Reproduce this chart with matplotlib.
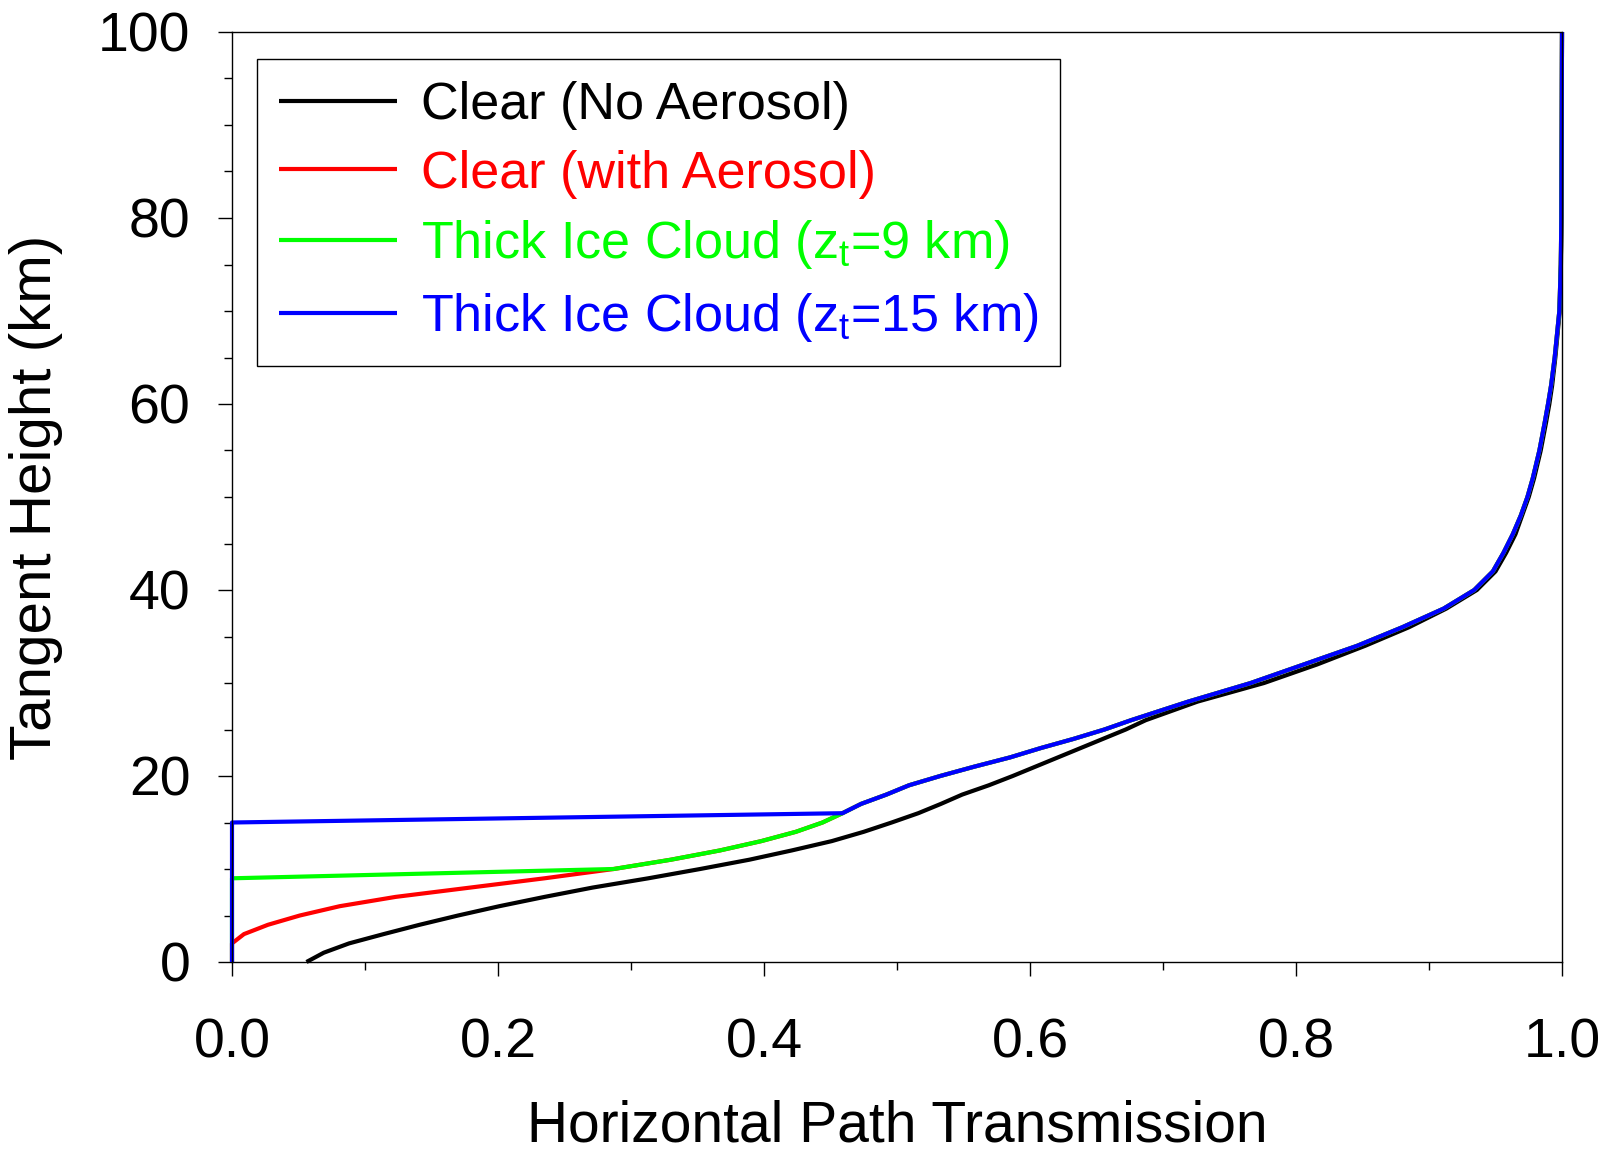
import matplotlib

matplotlib.use("Agg")
import matplotlib.pyplot as plt
from matplotlib.ticker import MultipleLocator, FixedFormatter, FixedLocator

plt.rcParams.update({
    "font.family": ["Liberation Sans", "DejaVu Sans"],
    "mathtext.fontset": "custom",
    "mathtext.rm": "Liberation Sans",
    "mathtext.it": "Liberation Sans",
})

# tangent heights (km) at which transmission is tabulated
HEIGHT = [0, 1, 2, 3, 4, 5, 6, 7, 8, 9, 10, 11, 12, 13, 14, 15, 16, 17, 18, 19,
          20, 21, 22, 23, 24, 25, 26, 28, 30, 32, 34, 36, 38, 40, 42, 44, 46, 48,
          50, 52, 55, 58, 60, 62, 65, 70, 75, 80, 90, 100]

# clear sky, no aerosol
T_CLEAR = [0.056, 0.069, 0.088, 0.114, 0.141, 0.170, 0.201, 0.235, 0.271, 0.313,
           0.352, 0.389, 0.421, 0.451, 0.475, 0.496, 0.516, 0.533, 0.549, 0.569,
           0.587, 0.604, 0.621, 0.638, 0.655, 0.672, 0.687, 0.726, 0.776, 0.816,
           0.852, 0.885, 0.913, 0.936, 0.950, 0.958, 0.965, 0.970, 0.975, 0.979,
           0.984, 0.988, 0.9905, 0.9926, 0.995, 0.9983, 0.9992, 0.9996, 0.9998, 1.0]

# clear sky with background aerosol
T_AEROSOL = [0.0, 0.0, 0.0, 0.009, 0.027, 0.051, 0.081, 0.123, 0.179, 0.235,
             0.287, 0.330, 0.367, 0.398, 0.424, 0.444, 0.459, 0.473, 0.492, 0.509,
             0.5325, 0.558, 0.585, 0.608, 0.633, 0.656, 0.676, 0.719, 0.766, 0.806,
             0.846, 0.880, 0.911, 0.934, 0.948, 0.956, 0.963, 0.969, 0.974, 0.978,
             0.983, 0.987, 0.9895, 0.9918, 0.9945, 0.998, 0.9991, 0.9995, 0.9998, 1.0]

# opaque ice cloud tops: transmission is zero below the cloud top
T_ICE9 = [0.0] * 10 + T_AEROSOL[10:]
T_ICE15 = [0.0] * 16 + T_AEROSOL[16:]

SERIES = [
    ("Clear (No Aerosol)", T_CLEAR, "#000000"),
    ("Clear (with Aerosol)", T_AEROSOL, "#ff0000"),
    (r"Thick Ice Cloud (z$_\mathregular{t}$=9 km)", T_ICE9, "#00ff00"),
    (r"Thick Ice Cloud (z$_\mathregular{t}$=15 km)", T_ICE15, "#0000ff"),
]

XTICKS = [0.0, 0.2, 0.4, 0.6, 0.8, 1.0]
XTICKLABELS = ["0.0", "0.2", "0.4", "0.6", "0.8", "1.0"]
YTICKS = [0, 20, 40, 60, 80, 100]
YTICKLABELS = ["0", "20", "40", "60", "80", "100"]

fig = plt.figure(figsize=(16.12, 11.54), dpi=100)
ax = fig.add_axes([232 / 1612, 1 - 962 / 1154, 1330 / 1612, 930 / 1154])

for label, trans, color in SERIES:
    ax.plot(trans, HEIGHT, color=color, lw=3.0, label=label, clip_on=False,
            solid_joinstyle="round", solid_capstyle="butt")

ax.set_xlim(0, 1)
ax.set_ylim(0, 100)

ax.xaxis.set_major_locator(FixedLocator(XTICKS))
ax.xaxis.set_major_formatter(FixedFormatter(XTICKLABELS))
ax.xaxis.set_minor_locator(MultipleLocator(0.1))
ax.yaxis.set_major_locator(FixedLocator(YTICKS))
ax.yaxis.set_major_formatter(FixedFormatter(YTICKLABELS))
ax.yaxis.set_minor_locator(MultipleLocator(5))

ax.tick_params(which="both", direction="out", top=False, right=False,
               width=1.0, color="black")
ax.tick_params(which="major", length=10)
ax.tick_params(which="minor", length=6)
ax.tick_params(axis="x", which="major", labelsize=40, pad=30)
ax.tick_params(axis="y", which="major", labelsize=40, pad=20)
for sp in ax.spines.values():
    sp.set_linewidth(1.0)
    sp.set_color("black")

fig.text(897 / 1612, 1 - 1141 / 1154, "Horizontal Path Transmission",
         fontsize=41, ha="center", va="baseline")
fig.text(36 / 1612, 1 - 497 / 1154, "Tangent Height (km)",
         fontsize=42, ha="center", va="center", rotation=90)

leg = ax.legend(loc="upper left", bbox_to_anchor=((257 - 232) / 1330, (962 - 59) / 930),
                borderaxespad=0, fontsize=37.5, handlelength=2.27, handletextpad=0.45,
                borderpad=0.42, labelspacing=0.38, fancybox=False, framealpha=1,
                labelcolor="linecolor")
leg.get_frame().set_edgecolor("black")
leg.get_frame().set_linewidth(1.0)

fig.savefig("out.png", dpi=100)
